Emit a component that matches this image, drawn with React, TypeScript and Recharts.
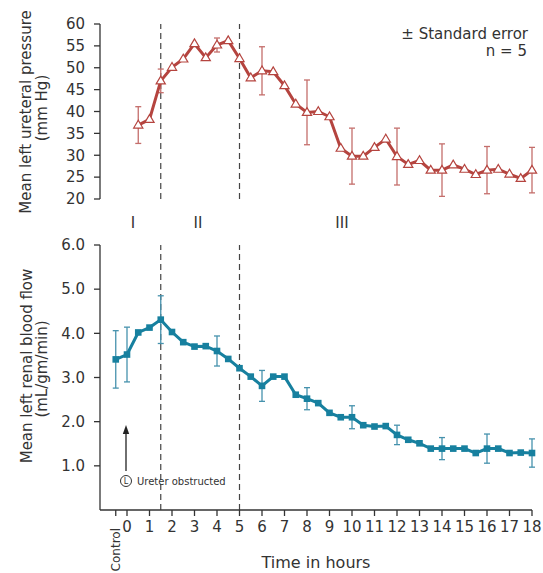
import React from 'react';
import { LineChart, Line, XAxis, YAxis, ReferenceLine, ErrorBar } from 'recharts';

const pressureHours = [0.5, 1, 1.5, 2, 2.5, 3, 3.5, 4, 4.5, 5, 5.5, 6, 6.5, 7, 7.5, 8, 8.5, 9, 9.5, 10, 10.5, 11, 11.5, 12, 12.5, 13, 13.5, 14, 14.5, 15, 15.5, 16, 16.5, 17, 17.5, 18];
const pressureValues = [36.9, 38.2, 47.0, 50.1, 52.0, 55.5, 52.3, 55.2, 56.2, 52.1, 47.7, 49.3, 49.1, 45.9, 41.7, 39.8, 40.0, 38.8, 31.6, 29.8, 29.8, 31.8, 33.7, 29.7, 27.9, 28.8, 26.6, 26.6, 27.8, 26.8, 25.6, 26.6, 26.8, 25.7, 24.7, 26.6];
const pressureErrors = [4.2, 0, 2.7, 0, 0, 0, 0, 1.6, 0, 0, 0, 5.5, 0, 0, 0, 7.4, 0, 0, 0, 6.4, 0, 0, 0, 6.5, 0, 0, 0, 6.0, 0, 0, 0, 5.4, 0, 0, 0, 5.2];

const flowHours = [-0.5, 0, 0.5, 1, 1.5, 2, 2.5, 3, 3.5, 4, 4.5, 5, 5.5, 6, 6.5, 7, 7.5, 8, 8.5, 9, 9.5, 10, 10.5, 11, 11.5, 12, 12.5, 13, 13.5, 14, 14.5, 15, 15.5, 16, 16.5, 17, 17.5, 18];
const flowValues = [3.41, 3.52, 4.02, 4.13, 4.31, 4.03, 3.80, 3.70, 3.71, 3.60, 3.42, 3.21, 3.02, 2.81, 3.02, 3.02, 2.61, 2.52, 2.42, 2.20, 2.10, 2.10, 1.92, 1.89, 1.90, 1.70, 1.59, 1.51, 1.39, 1.39, 1.39, 1.39, 1.29, 1.39, 1.39, 1.29, 1.30, 1.29];
const flowErrors = [0.65, 0.62, 0, 0, 0.54, 0, 0, 0, 0, 0.34, 0, 0, 0, 0.35, 0, 0, 0, 0.25, 0, 0, 0, 0.26, 0, 0, 0, 0.22, 0, 0, 0, 0.25, 0, 0, 0, 0.33, 0, 0, 0, 0.32];

const timeTicks = [-0.5, 0, 1, 2, 3, 4, 5, 6, 7, 8, 9, 10, 11, 12, 13, 14, 15, 16, 17, 18];
const controlTick = -0.5;
const controlLabel = 'Control';
const pressureTicks = [20, 25, 30, 35, 40, 45, 50, 55, 60];
const flowTicks = [1, 2, 3, 4, 5, 6];
const phaseBoundaries = [1.5, 5];
const phaseLabels = ['I', 'II', 'III'];

const pressureData = pressureHours.map((t, i) => ({ t, v: pressureValues[i], err: pressureErrors[i] }));
const flowData = flowHours.map((t, i) => ({ t, v: flowValues[i], err: flowErrors[i] }));

const RED = '#b5443f';
const RED_ERR = '#c46e6b';
const TEAL = '#17809f';
const TEAL_ERR = '#4692ad';
const INK = '#333';
const FONT = 'DejaVu Sans';
const X_DOMAIN: [number, number] = [-1.2, 18];

const renderTriangle = (p: any) => {
  const { cx, cy, index } = p;
  if (cx == null || cy == null) return <g key={`tri-${index}`} />;
  const d = `M${cx},${cy - 4.8} L${cx - 4.6},${cy + 3} L${cx + 4.6},${cy + 3} Z`;
  return <path key={`tri-${index}`} d={d} fill="#fff" stroke={RED} strokeWidth={1.2} />;
};

const renderSquare = (p: any) => {
  const { cx, cy, index } = p;
  if (cx == null || cy == null) return <g key={`sq-${index}`} />;
  return <rect key={`sq-${index}`} x={cx - 3.3} y={cy - 3.3} width={6.6} height={6.6} fill={TEAL} />;
};

const XTick = (props: any) => {
  const { x, y, payload } = props;
  if (payload.value === controlTick) {
    const ax = x + 4;
    const ay = y + 10;
    return (
      <text x={ax} y={ay} transform={`rotate(-90, ${ax}, ${ay})`} textAnchor="end" fontSize={12} fill={INK} fontFamily={FONT}>
        {controlLabel}
      </text>
    );
  }
  return (
    <text x={x} y={y + 14} textAnchor="middle" fontSize={15} fill={INK} fontFamily={FONT}>
      {payload.value}
    </text>
  );
};

export default function App() {
  return (
    <div style={{ position: 'absolute', left: 0, top: 0, width: 543, height: 573, background: '#fff', fontFamily: FONT }}>
      <div style={{ position: 'absolute', left: 0, top: 0 }}>
        <LineChart width={543} height={215} data={pressureData} margin={{ top: 24, right: 11, bottom: 16, left: 0 }}>
          <XAxis dataKey="t" type="number" domain={X_DOMAIN} hide />
          <YAxis
            type="number"
            domain={[20, 60]}
            ticks={pressureTicks}
            interval={0}
            width={100}
            tickSize={6}
            tickMargin={9}
            axisLine={{ stroke: INK, strokeWidth: 1.3 }}
            tickLine={{ stroke: INK, strokeWidth: 1.3 }}
            tick={{ fill: INK, fontSize: 15, fontFamily: FONT }}
          />
          {phaseBoundaries.map((b) => (
            <ReferenceLine key={`p${b}`} x={b} stroke="#444" strokeWidth={1.2} strokeDasharray="6 4" />
          ))}
          <Line
            type="linear"
            dataKey="v"
            stroke={RED}
            strokeWidth={3}
            dot={renderTriangle}
            activeDot={false}
            isAnimationActive={false}
          >
            <ErrorBar dataKey="err" direction="y" width={3} stroke={RED_ERR} strokeWidth={1.3} />
          </Line>
        </LineChart>
      </div>
      <div style={{ position: 'absolute', left: 0, top: 215 }}>
        <LineChart width={543} height={358} data={flowData} margin={{ top: 30, right: 11, bottom: 0, left: 0 }}>
          <XAxis
            dataKey="t"
            type="number"
            domain={X_DOMAIN}
            ticks={timeTicks}
            interval={0}
            height={63}
            tickSize={6}
            tickMargin={2}
            axisLine={{ stroke: INK, strokeWidth: 1.3 }}
            tickLine={{ stroke: INK, strokeWidth: 1.3 }}
            tick={<XTick />}
            label={{ value: 'Time in hours', position: 'insideBottom', offset: 5, fill: INK, fontSize: 16, fontFamily: FONT }}
          />
          <YAxis
            type="number"
            domain={[0, 6]}
            ticks={flowTicks}
            interval={0}
            width={100}
            tickSize={6}
            tickMargin={9}
            tickFormatter={(v: number) => v.toFixed(1)}
            axisLine={{ stroke: INK, strokeWidth: 1.3 }}
            tickLine={{ stroke: INK, strokeWidth: 1.3 }}
            tick={{ fill: INK, fontSize: 15, fontFamily: FONT }}
          />
          {phaseBoundaries.map((b) => (
            <ReferenceLine key={`f${b}`} x={b} stroke="#444" strokeWidth={1.2} strokeDasharray="6 4" />
          ))}
          <Line
            type="linear"
            dataKey="v"
            stroke={TEAL}
            strokeWidth={3}
            dot={renderSquare}
            activeDot={false}
            isAnimationActive={false}
          >
            <ErrorBar dataKey="err" direction="y" width={3} stroke={TEAL_ERR} strokeWidth={1.3} />
          </Line>
        </LineChart>
      </div>
      <svg width={543} height={573} style={{ position: 'absolute', left: 0, top: 0, pointerEvents: 'none' }} fontFamily={FONT}>
        <text transform="translate(31,112) rotate(-90)" textAnchor="middle" fontSize={15} fill={INK}>Mean left ureteral pressure</text>
        <text transform="translate(47,108) rotate(-90)" textAnchor="middle" fontSize={15} fill={INK}>(mm Hg)</text>
        <text transform="translate(32,366) rotate(-90)" textAnchor="middle" fontSize={15} fill={INK}>Mean left renal blood flow</text>
        <text transform="translate(47,369) rotate(-90)" textAnchor="middle" fontSize={15} fill={INK}>(mL/gm/min)</text>
        <text x={528} y={39} textAnchor="end" fontSize={15} fill={INK}>± Standard error</text>
        <text x={527} y={56} textAnchor="end" fontSize={15} fill={INK}>n = 5</text>
        <text x={133} y={228} textAnchor="middle" fontSize={15} fill={INK}>{phaseLabels[0]}</text>
        <text x={198} y={228} textAnchor="middle" fontSize={15} fill={INK}>{phaseLabels[1]}</text>
        <text x={342} y={228} textAnchor="middle" fontSize={15} fill={INK}>{phaseLabels[2]}</text>
        <line x1={126} y1={471} x2={126} y2={432} stroke="#222" strokeWidth={1.3} />
        <polygon points="126,425 122.8,434 129.2,434" fill="#222" />
        <circle cx={126} cy={481} r={5.5} fill="none" stroke={INK} strokeWidth={1} />
        <text x={126} y={484.3} textAnchor="middle" fontSize={8} fill={INK}>L</text>
        <text x={137} y={485} fontSize={10} fill={INK}>Ureter obstructed</text>
      </svg>
    </div>
  );
}
